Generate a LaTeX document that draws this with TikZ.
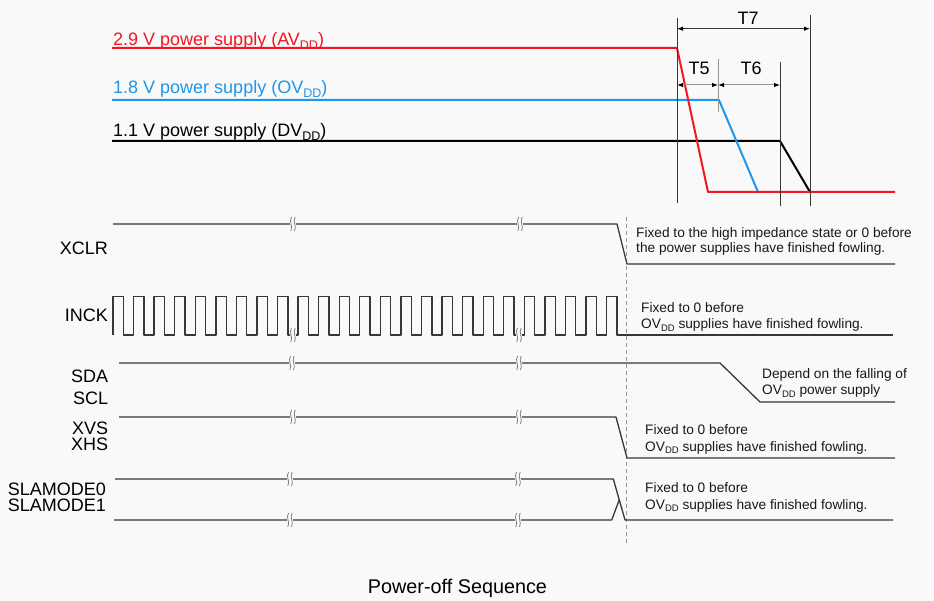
\documentclass[tikz,border=0pt]{standalone}
\usepackage{fontspec}
\setmainfont{Liberation Sans}
\usetikzlibrary{arrows.meta}
\definecolor{bg}{RGB}{249,249,249}
\definecolor{pred}{RGB}{240,24,32}
\definecolor{pblue}{RGB}{30,150,235}
\definecolor{sig}{RGB}{55,55,55}
\definecolor{brkc}{RGB}{120,120,120}
\definecolor{dimc}{RGB}{150,150,150}
\newcommand{\subbig}[1]{\raisebox{-0.2em}{\fontsize{12.5}{13}\selectfont #1}}
\newcommand{\subsm}[1]{\raisebox{-0.15em}{\fontsize{9.5}{10}\selectfont #1}}
\begin{document}
\begin{tikzpicture}[x=1pt,y=-1pt,
  lbl/.style={font=\fontsize{18}{20}\selectfont, inner sep=0pt, anchor=east},
  pslbl/.style={font=\fontsize{18}{20}\selectfont, inner sep=0pt, anchor=base west},
  note/.style={font=\fontsize{13.7}{16}\selectfont, inner sep=0pt, anchor=base west, text=black!90},
  pw/.style={line width=2pt, line join=round},
  sigline/.style={line width=1.3pt, draw=sig, line join=round},
  vref/.style={line width=0.8pt, draw=sig},
  dimarrow/.style={line width=1pt, {Latex[length=6pt,width=4.5pt,color=black]}-{Latex[length=6pt,width=4.5pt,color=black]}},
  brk/.pic={
    \fill[bg] (-2.6,-2.6) rectangle (2.6,2.6);
    \draw[brkc, line width=0.75pt] (-1.5,-7) .. controls (-4.5,-2.5) and (0.5,2.5) .. (-2.2,7);
    \draw[brkc, line width=0.75pt] (2.2,-7) .. controls (-0.8,-2.5) and (4.2,2.5) .. (1.5,7);
  }]
\useasboundingbox[fill=bg] (0,0) rectangle (934,601);

% ---------- power supplies ----------
\coordinate (d0) at (112,141); \coordinate (d1) at (780,141); \coordinate (d2) at (810,192);
\coordinate (o0) at (112,100); \coordinate (o1) at (719,100); \coordinate (o2) at (758,192);
\coordinate (a0) at (112,48);  \coordinate (a1) at (677,48);  \coordinate (a2) at (708,192);
\coordinate (a3) at (895,192);
\draw[pw, black] (d0) -- (d1) -- (d2);
\draw[pw, pblue] (o0) -- (o1) -- (o2);
\draw[pw, pred] (a0) -- (a1) -- (a2) -- (a3);

\node[pslbl, text=pred]  (lava) at (113,45.5) {2.9 V power supply (AV\subbig{DD})};
\node[pslbl, text=pblue] (lovd) at (113,94)   {1.8 V power supply (OV\subbig{DD})};
\node[pslbl, text=black] (ldvd) at (113,137)  {1.1 V power supply (DV\subbig{DD})};

% ---------- reference verticals ----------
\coordinate (v1t) at (677,18);  \coordinate (v1b) at (677,203);
\coordinate (v2t) at (780,62);  \coordinate (v2b) at (780,206);
\coordinate (v3t) at (810,15);  \coordinate (v3b) at (810,206);
\coordinate (v4t) at (718,59);  \coordinate (v4b) at (718,112);
\draw[vref] (v1t) -- (v1b);
\draw[vref] (v2t) -- (v2b);
\draw[vref] (v3t) -- (v3b);
\draw[vref, draw=dimc] (v4t) -- (v4b);

% ---------- dimension arrows ----------
\coordinate (t7a) at (677,28.7); \coordinate (t7b) at (810,28.7);
\coordinate (t5a) at (677,85);   \coordinate (t5b) at (718,85);
\coordinate (t6a) at (718,85);   \coordinate (t6b) at (780,85);
\draw[dimarrow, draw=sig] (t7a) -- (t7b);
\draw[dimarrow, draw=dimc] (t5a) -- (t5b);
\draw[dimarrow, draw=dimc] (t6a) -- (t6b);
\node[font=\fontsize{18}{20}\selectfont, inner sep=0pt] (T7) at (748,18) {T7};
\node[font=\fontsize{18}{20}\selectfont, inner sep=0pt] (T5) at (699,68.3) {T5};
\node[font=\fontsize{18}{20}\selectfont, inner sep=0pt] (T6) at (751,68.3) {T6};

% ---------- dashed reference ----------
\coordinate (dsh1) at (626.7,217); \coordinate (dsh2) at (626.7,543);
\draw[dimc, line width=1pt, dash pattern=on 4pt off 3pt] (dsh1) -- (dsh2);

% ---------- XCLR ----------
\coordinate (x0) at (113,224); \coordinate (x1) at (617,224);
\coordinate (x2) at (627,264); \coordinate (x3) at (895,264);
\draw[sigline] (x0) -- (x1) -- (x2) -- (x3);
\pic at (293,224) {brk};
\pic at (520,224) {brk};
\node[lbl] (lxclr) at (108,248) {XCLR};
\node[note] (nx1) at (636,237.3) {Fixed to the high impedance state or 0 before};
\node[note] (nx2) at (636,252.3) {the power supplies have finished fowling.};

% ---------- INCK ----------
\draw[sigline] (113,335)
  \foreach \k in {0,...,24} { -- ({113+20.57*\k},335) -- ({113+20.57*\k},296.7)
     -- ({123.3+20.57*\k},296.7) -- ({123.3+20.57*\k},335) } -- (893,335);
\pic at (293,335) {brk};
\pic at (519,335) {brk};
\node[lbl] (linck) at (108,315) {INCK};
\node[note] (ni1) at (641,312.3) {Fixed to 0 before};
\node[note] (ni2) at (641,329) {OV\subsm{DD} supplies have finished fowling.};

% ---------- SDA / SCL ----------
\coordinate (s0) at (119,363); \coordinate (s1) at (720,363);
\coordinate (s2) at (760,402); \coordinate (s3) at (895,402);
\draw[sigline] (s0) -- (s1) -- (s2) -- (s3);
\pic at (292,363) {brk};
\pic at (519,363) {brk};
\node[lbl] (lsda) at (108.3,376) {SDA};
\node[lbl] (lscl) at (108.3,398) {SCL};
\node[note] (ns1) at (762,378.3) {Depend on the falling of};
\node[note] (ns2) at (762,395) {OV\subsm{DD} power supply};

% ---------- XVS / XHS ----------
\coordinate (h0) at (119,417); \coordinate (h1) at (616,417);
\coordinate (h2) at (627,458); \coordinate (h3) at (895,458);
\draw[sigline] (h0) -- (h1) -- (h2) -- (h3);
\pic at (293,417) {brk};
\pic at (519,417) {brk};
\node[lbl] (lxvs) at (108.3,428) {XVS};
\node[lbl] (lxhs) at (108.3,444.5) {XHS};
\node[note] (nh1) at (645,434.3) {Fixed to 0 before};
\node[note] (nh2) at (645,451) {OV\subsm{DD} supplies have finished fowling.};

% ---------- SLAMODE ----------
\coordinate (m0) at (115,479); \coordinate (m1) at (613.3,479);
\coordinate (m2) at (625,520); \coordinate (m3) at (893,520);
\coordinate (n0) at (114,520); \coordinate (n1) at (611.7,520);
\coordinate (n2) at (619.2,500);
\draw[sigline] (m0) -- (m1) -- (m2) -- (m3);
\draw[sigline] (n0) -- (n1) -- (n2);
\pic at (290,479) {brk};
\pic at (290,520) {brk};
\pic at (518,479) {brk};
\pic at (518,520) {brk};
\node[lbl] (lsm0) at (106,489) {SLAMODE0};
\node[lbl] (lsm1) at (106,505.6) {SLAMODE1};
\node[note] (nm1) at (645,492.3) {Fixed to 0 before};
\node[note] (nm2) at (645,509) {OV\subsm{DD} supplies have finished fowling.};

% ---------- title ----------
\node[font=\fontsize{19.8}{22}\selectfont, inner sep=0pt] (title) at (457.5,588.8) {Power-off Sequence};
\end{tikzpicture}
\end{document}
